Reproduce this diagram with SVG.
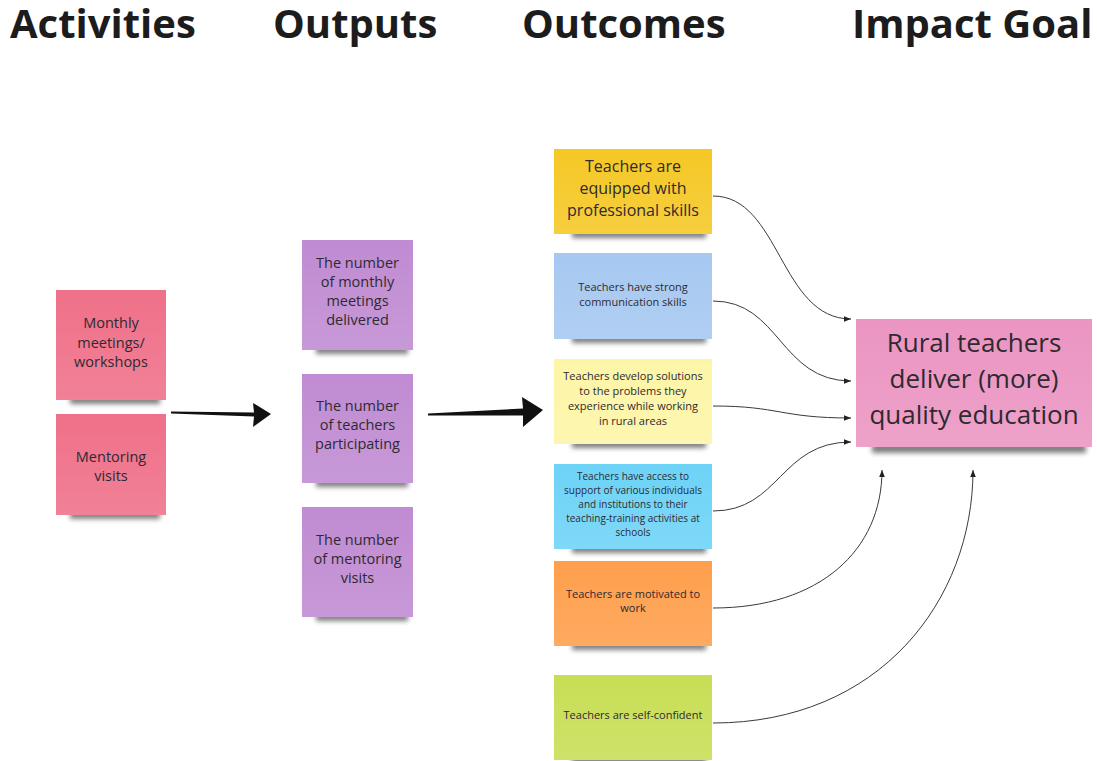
<svg xmlns="http://www.w3.org/2000/svg" width="1097" height="761" viewBox="0 0 1097 761">
  <style>
    .head { font-family: "Open Sans", "Noto Sans", sans-serif; font-weight: 700; font-size: 40px; fill: #1c1c1c; }
    .t { font-family: "Open Sans", "Noto Sans", sans-serif; fill: #2e2a30; text-anchor: middle; }
    .link { fill: none; stroke: #3a3a3a; stroke-width: 1; marker-end: url(#tip); }
    .shade { fill: #000; opacity: 0.5; filter: url(#soft); }
    .gloss { fill: url(#sheen); }
  </style>
  <defs>
    <filter id="soft" x="-20%" y="-100%" width="140%" height="300%">
      <feGaussianBlur stdDeviation="2.6"/>
    </filter>
    <linearGradient id="sheen" x1="0" y1="0" x2="0" y2="1">
      <stop offset="0" stop-color="#fff" stop-opacity="0"/>
      <stop offset="1" stop-color="#fff" stop-opacity="0.12"/>
    </linearGradient>
    <marker id="tip" viewBox="0 0 10 10" refX="10" refY="5" markerWidth="7" markerHeight="7" markerUnits="userSpaceOnUse" orient="auto">
      <path d="M0,1 L10,5 L0,9 Z" fill="#222"/>
    </marker>
  </defs>

  <rect width="1097" height="761" fill="#fff"/>

  <!-- column headings -->
  <text class="head" x="10" y="38">Activities</text>
  <text class="head" x="273" y="38">Outputs</text>
  <text class="head" x="522" y="38">Outcomes</text>
  <text class="head" x="852" y="38">Impact Goal</text>

  <!-- activities -->
  <g id="act-meetings">
    <rect class="shade" x="70" y="396" width="90" height="8"/>
    <rect x="56" y="290" width="110" height="110" fill="#ef7089"/>
    <rect class="gloss" x="56" y="290" width="110" height="110"/>
    <text class="t" font-size="14.5"><tspan x="111" y="328">Monthly</tspan><tspan x="111" y="348">meetings/</tspan><tspan x="111" y="367">workshops</tspan></text>
  </g>
  <g id="act-mentoring">
    <rect class="shade" x="70" y="511" width="90" height="8"/>
    <rect x="56" y="414" width="110" height="101" fill="#ef7089"/>
    <rect class="gloss" x="56" y="414" width="110" height="101"/>
    <text class="t" font-size="14.5"><tspan x="111" y="462">Mentoring</tspan><tspan x="111" y="481">visits</tspan></text>
  </g>

  <!-- outputs -->
  <g id="out-meetings">
    <rect class="shade" x="316" y="346" width="92" height="8"/>
    <rect x="302" y="240" width="111" height="110" fill="#c08bd2"/>
    <rect class="gloss" x="302" y="240" width="111" height="110"/>
    <text class="t" font-size="14.5"><tspan x="357.5" y="268">The number</tspan><tspan x="357.5" y="287">of monthly</tspan><tspan x="357.5" y="306">meetings</tspan><tspan x="357.5" y="325">delivered</tspan></text>
  </g>
  <g id="out-teachers">
    <rect class="shade" x="316" y="479" width="92" height="8"/>
    <rect x="302" y="374" width="111" height="109" fill="#c08bd2"/>
    <rect class="gloss" x="302" y="374" width="111" height="109"/>
    <text class="t" font-size="14.5"><tspan x="357.5" y="411">The number</tspan><tspan x="357.5" y="430">of teachers</tspan><tspan x="357.5" y="449">participating</tspan></text>
  </g>
  <g id="out-visits">
    <rect class="shade" x="316" y="613" width="92" height="8"/>
    <rect x="302" y="507" width="111" height="110" fill="#c08bd2"/>
    <rect class="gloss" x="302" y="507" width="111" height="110"/>
    <text class="t" font-size="14.5"><tspan x="357.5" y="545">The number</tspan><tspan x="357.5" y="564">of mentoring</tspan><tspan x="357.5" y="583">visits</tspan></text>
  </g>

  <!-- outcomes -->
  <g id="oc-skills">
    <rect class="shade" x="572" y="230" width="134" height="8"/>
    <rect x="554" y="149" width="158" height="85" fill="#f5c825"/>
    <rect class="gloss" x="554" y="149" width="158" height="85"/>
    <text class="t" font-size="16"><tspan x="633" y="172">Teachers are</tspan><tspan x="633" y="194">equipped with</tspan><tspan x="633" y="216">professional skills</tspan></text>
  </g>
  <g id="oc-communication">
    <rect class="shade" x="572" y="335" width="134" height="8"/>
    <rect x="554" y="253" width="158" height="86" fill="#a6c8f1"/>
    <rect class="gloss" x="554" y="253" width="158" height="86"/>
    <text class="t" font-size="11"><tspan x="633" y="291">Teachers have strong</tspan><tspan x="633" y="306">communication skills</tspan></text>
  </g>
  <g id="oc-solutions">
    <rect class="shade" x="572" y="440" width="134" height="8"/>
    <rect x="554" y="359" width="158" height="85" fill="#fdf5a6"/>
    <rect class="gloss" x="554" y="359" width="158" height="85"/>
    <text class="t" font-size="11"><tspan x="633" y="380">Teachers develop solutions</tspan><tspan x="633" y="395">to the problems they</tspan><tspan x="633" y="410">experience while working</tspan><tspan x="633" y="425">in rural areas</tspan></text>
  </g>
  <g id="oc-support">
    <rect class="shade" x="572" y="545" width="134" height="8"/>
    <rect x="554" y="464" width="158" height="85" fill="#6dd3f7"/>
    <rect class="gloss" x="554" y="464" width="158" height="85"/>
    <text class="t" font-size="10"><tspan x="633" y="479.5">Teachers have access to</tspan><tspan x="633" y="494">support of various individuals</tspan><tspan x="633" y="508">and institutions to their</tspan><tspan x="633" y="522">teaching-training activities at</tspan><tspan x="633" y="536">schools</tspan></text>
  </g>
  <g id="oc-motivated">
    <rect class="shade" x="572" y="642" width="134" height="8"/>
    <rect x="554" y="561" width="158" height="85" fill="#fe9f4c"/>
    <rect class="gloss" x="554" y="561" width="158" height="85"/>
    <text class="t" font-size="11"><tspan x="633" y="598">Teachers are motivated to</tspan><tspan x="633" y="612">work</tspan></text>
  </g>
  <g id="oc-confident">
    <rect class="shade" x="572" y="756" width="134" height="8"/>
    <rect x="554" y="675" width="158" height="85" fill="#c8de55"/>
    <rect class="gloss" x="554" y="675" width="158" height="85"/>
    <text class="t" font-size="11"><tspan x="633" y="719">Teachers are self-confident</tspan></text>
  </g>

  <!-- impact goal -->
  <g id="impact">
    <rect class="shade" x="872" y="443" width="214" height="10"/>
    <rect x="856" y="319" width="236" height="128" fill="#eb95c2"/>
    <rect class="gloss" x="856" y="319" width="236" height="128"/>
    <text class="t" font-size="26"><tspan x="974" y="352">Rural teachers</tspan><tspan x="974" y="388">deliver (more)</tspan><tspan x="974" y="424">quality education</tspan></text>
  </g>

  <!-- connectors -->
  <g id="connectors">
    <path d="M171,411.5 L254,412.5 L253,403 L271,414 L253,427 L254,416.5 L171,413.5 Z" fill="#111"/>
    <path d="M428,413.5 L523,408.5 L522,397 L543,410 L523,427 L523,415.5 L428,415.5 Z" fill="#111"/>
    <path class="link" d="M713,196 C780,196 780,319 851,319"/>
    <path class="link" d="M713,301 C780,301 780,381 851,381"/>
    <path class="link" d="M713,406 C780,406 780,418 851,418"/>
    <path class="link" d="M713,511 C780,511 780,442 851,442"/>
    <path class="link" d="M713,608 C820,608 882,550 882,470"/>
    <path class="link" d="M713,723 C880,723 973,600 973,470"/>
  </g>
</svg>
